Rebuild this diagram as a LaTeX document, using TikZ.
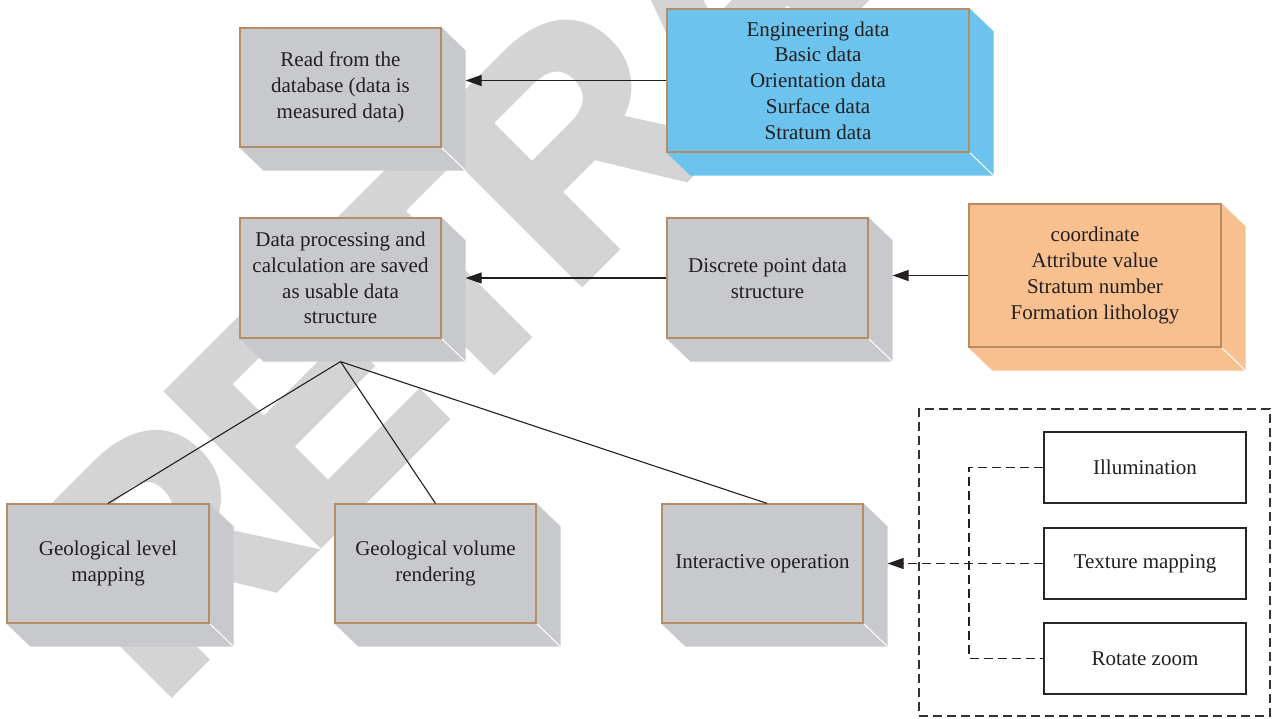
\documentclass[tikz,border=0pt]{standalone}
\usepackage{fontspec}
\setmainfont{Liberation Serif}
\newfontfamily\wmfont[BoldFeatures={FakeBold=3}, LetterSpace=-4.3]{Liberation Sans}
\usetikzlibrary{calc,arrows.meta,backgrounds}
\definecolor{facegray}{RGB}{200,201,205}
\definecolor{boxbrown}{RGB}{181,140,100}
\definecolor{faceblue}{RGB}{108,195,238}
\definecolor{faceorange}{RGB}{249,192,143}
\definecolor{wmgray}{RGB}{212,212,212}
\definecolor{textdark}{RGB}{35,31,32}
\pgfdeclarelayer{wm}
\pgfdeclarelayer{ext}
\pgfsetlayers{wm,ext,main}
\newcommand{\extrude}[2]{%
  \begin{pgfonlayer}{ext}
  \fill[#2] (#1.north east) -- ($(#1.north east)+(24,23)$) -- ($(#1.south east)+(24,23)$)
     -- ($(#1.south west)+(24,23)$) -- (#1.south west) -- cycle;
  \draw[white, line width=1pt] (#1.south east) -- ($(#1.south east)+(24,23)$);
  \end{pgfonlayer}}
\begin{document}
\begin{tikzpicture}[x=1pt,y=-1pt,
  solidbox/.style={draw=boxbrown, line width=1.2pt, fill=#1, inner sep=0pt, align=center,
     text=textdark, font=\fontsize{21}{25.7}\selectfont},
  plainbox/.style={draw=black!85, line width=1.2pt, fill=white, inner sep=0pt, align=center,
     text=textdark, font=\fontsize{21}{25.7}\selectfont, minimum width=202pt, minimum height=71pt},
  framebox/.style={draw=black!80, line width=1.1pt, dash pattern=on 9pt off 5pt},
  conn/.style={draw=textdark, line width=1.2pt, -{Triangle[length=16pt,width=11pt]}},
  dconn/.style={draw=textdark, line width=1.1pt, dash pattern=on 9pt off 5pt, -{Triangle[length=16pt,width=11pt]}},
  dline/.style={draw=textdark, line width=1.1pt, dash pattern=on 9pt off 5pt},
  tree/.style={draw=textdark, line width=1.1pt}]
\useasboundingbox (0,0) rectangle (1272,718);
\begin{pgfonlayer}{wm}
\begin{scope}
\clip (0,0) rectangle (1272,718);
\node[rotate=45, anchor=base west, inner sep=0pt, text=wmgray,
  font=\wmfont\bfseries\fontsize{310}{310}\selectfont] (wm) at (157,706) {RETRACTED};
\end{scope}
\end{pgfonlayer}

\node[solidbox=facegray, minimum width=201pt, minimum height=119pt] (b1) at (340.5,87.5)
  {Read from the\\database (data is\\measured data)};
\node[solidbox=faceblue, minimum width=302pt, minimum height=143pt] (b2) at (818,80.5)
  {Engineering data\\Basic data\\Orientation data\\Surface data\\Stratum data};
\node[solidbox=facegray, minimum width=201pt, minimum height=120pt] (b3) at (340.5,278)
  {Data processing and\\calculation are saved\\as usable data\\structure};
\node[solidbox=facegray, minimum width=201pt, minimum height=120pt] (b4) at (767.5,278)
  {Discrete point data\\structure};
\node[solidbox=faceorange, minimum width=252pt, minimum height=143pt] (b5) at (1095,275.5)
  {coordinate\\Attribute value\\Stratum number\\Formation lithology};
\node[solidbox=facegray, minimum width=202pt, minimum height=119pt] (b6) at (108,563.5)
  {Geological level\\mapping};
\node[solidbox=facegray, minimum width=201pt, minimum height=119pt] (b7) at (435.5,563.5)
  {Geological volume\\rendering};
\node[solidbox=facegray, minimum width=201pt, minimum height=119pt] (b8) at (762.5,563.5)
  {Interactive operation};
\extrude{b1}{facegray}
\extrude{b2}{faceblue}
\extrude{b3}{facegray}
\extrude{b4}{facegray}
\extrude{b5}{faceorange}
\extrude{b6}{facegray}
\extrude{b7}{facegray}
\extrude{b8}{facegray}

\node[framebox, minimum width=351pt, minimum height=307pt, inner sep=0pt] (frame) at (1094.5,562.5) {};
\node[plainbox] (i1) at (1145,467.5) {Illumination};
\node[plainbox] (i2) at (1145,563.5) {Texture mapping};
\node[plainbox] (i3) at (1145,658.5) {Rotate zoom};

\coordinate (b1r) at ($(b1.east)+(24,0)$);
\coordinate (b3r) at ($(b3.east)+(24,0)$);
\coordinate (b4r) at ($(b4.east)+(24,0)$);
\coordinate (b8r) at ($(b8.east)+(24,0)$);
\coordinate (hub) at ($(b3.south)+(0,23)$);
\coordinate (vx) at (969,0);
\coordinate (b8t) at ($(b8.north)+(4.5,0)$);

\draw[conn] (b2.west) -- (b2.west -| b1r);
\draw[conn] (b4.west) -- (b4.west -| b3r);
\draw[conn] (b5.west) -- (b5.west -| b4r);
\draw[tree] (hub) -- (b6.north);
\draw[tree] (hub) -- (b7.north);
\draw[tree] (hub) -- (b8t);
\draw[dconn] (i2.west) -- (i2.west -| b8r);
\draw[dline] (i1.west) -- (i1.west -| vx) -- (i3.west -| vx) -- (i3.west);
\end{tikzpicture}
\end{document}
